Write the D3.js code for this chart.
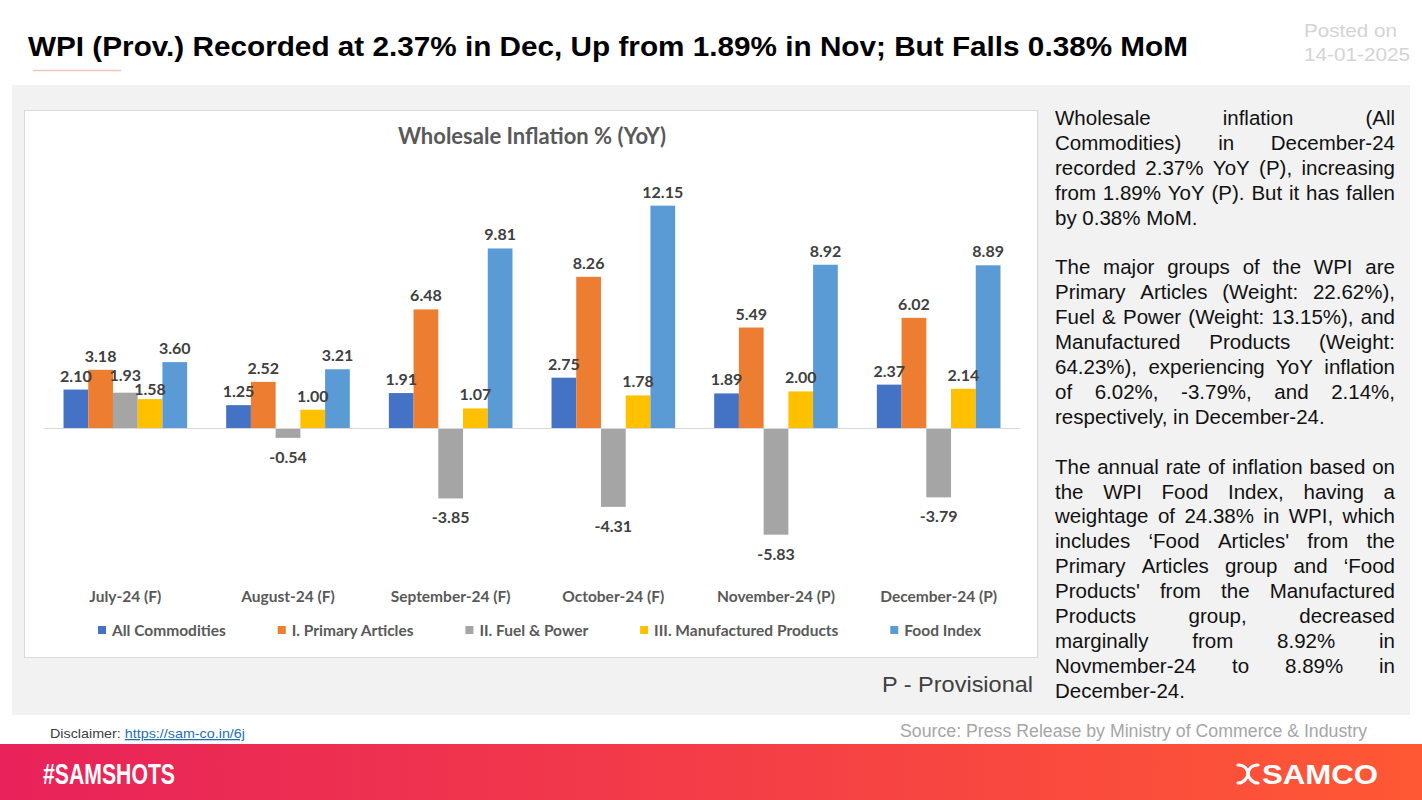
<!DOCTYPE html>
<html>
<head>
<meta charset="utf-8">
<script src="https://cdn.jsdelivr.net/npm/d3@7"></script>
<style>
  html, body { margin: 0; padding: 0; background: #ffffff; }
  svg { display: block; }
</style>
</head>
<body>
<svg id="chart" width="1422" height="800"></svg>
<script>
// ---------- DATA ----------
const categories = ["July-24 (F)", "August-24 (F)", "September-24 (F)", "October-24 (F)", "November-24 (P)", "December-24 (P)"];
const seriesNames = ["All Commodities", "I. Primary Articles", "II. Fuel & Power", "III. Manufactured Products", "Food Index"];
const allCommodities = [2.10, 1.25, 1.91, 2.75, 1.89, 2.37];
const primaryArticles = [3.18, 2.52, 6.48, 8.26, 5.49, 6.02];
const fuelPower = [1.93, -0.54, -3.85, -4.31, -5.83, -3.79];
const manufactured = [1.58, 1.00, 1.07, 1.78, 2.00, 2.14];
const foodIndex = [3.60, 3.21, 9.81, 12.15, 8.92, 8.89];
const seriesColors = ["#4472C4", "#ED7D31", "#A5A5A5", "#FFC000", "#5B9BD5"];

const titleText = "WPI (Prov.) Recorded at 2.37% in Dec, Up from 1.89% in Nov; But Falls 0.38% MoM";
const chartTitle = "Wholesale Inflation % (YoY)";
const sideParagraphs = [
  ["Wholesale inflation (All", "Commodities) in December-24", "recorded 2.37% YoY (P), increasing", "from 1.89% YoY (P). But it has fallen", "by 0.38% MoM."],
  ["The major groups of the WPI are", "Primary Articles (Weight: 22.62%),", "Fuel & Power (Weight: 13.15%), and", "Manufactured Products (Weight:", "64.23%), experiencing YoY inflation", "of 6.02%, -3.79%, and 2.14%,", "respectively, in December-24."],
  ["The annual rate of inflation based on", "the WPI Food Index, having a", "weightage of 24.38% in WPI, which", "includes \u2018Food Articles' from the", "Primary Articles group and \u2018Food", "Products' from the Manufactured", "Products group, decreased", "marginally from 8.92% in", "Novmember-24 to 8.89% in", "December-24."]
];

const seriesValues = [allCommodities, primaryArticles, fuelPower, manufactured, foodIndex];

// ---------- DRAW ----------
const svg = d3.select("#chart");
const chartFont = "Lato, 'Open Sans', sans-serif";
const arial = "'Liberation Sans', Arial, sans-serif";

// gradient for footer
const defs = svg.append("defs");
const grad = defs.append("linearGradient").attr("id", "footGrad").attr("x1", "0%").attr("x2", "100%");
grad.append("stop").attr("offset", "0%").attr("stop-color", "#e8225a");
grad.append("stop").attr("offset", "100%").attr("stop-color", "#ff5834");

// Header
svg.append("text").attr("x", 28).attr("y", 56)
  .attr("font-family", arial).attr("font-weight", "bold").attr("font-size", 28)
  .attr("fill", "#000").attr("textLength", 1160).attr("lengthAdjust", "spacingAndGlyphs")
  .text(titleText);
svg.append("text").attr("x", 1304).attr("y", 37)
  .attr("font-family", arial).attr("font-size", 19).attr("fill", "#d4d4d4")
  .attr("textLength", 93).attr("lengthAdjust", "spacingAndGlyphs").text("Posted on");
svg.append("text").attr("x", 1304).attr("y", 61)
  .attr("font-family", arial).attr("font-size", 19).attr("fill", "#d4d4d4")
  .attr("textLength", 106).attr("lengthAdjust", "spacingAndGlyphs").text("14-01-2025");
svg.append("line").attr("x1", 33).attr("x2", 121).attr("y1", 70.5).attr("y2", 70.5)
  .attr("stroke", "#f2c6b6").attr("stroke-width", 1.5);

// Gray panel
svg.append("rect").attr("x", 12).attr("y", 85).attr("width", 1398).attr("height", 630).attr("fill", "#f2f2f2");

// Chart box
svg.append("rect").attr("x", 24.5).attr("y", 110.5).attr("width", 1013).attr("height", 547)
  .attr("fill", "#ffffff").attr("stroke", "#d9d9d9").attr("stroke-width", 1);

svg.append("text").attr("x", 532).attr("y", 144).attr("text-anchor", "middle")
  .attr("font-family", chartFont).attr("font-weight", "bold").attr("font-size", 22)
  .attr("fill", "#595959").text(chartTitle);

// Scales
const x0 = d3.scaleBand().domain(categories).range([44, 1020]).paddingInner(0.24).paddingOuter(0.12);
const x1 = d3.scaleBand().domain(seriesNames).range([0, x0.bandwidth()]);
const y = d3.scaleLinear().domain([-6, 12]).range([428 + 6 * 18.3, 428 - 12 * 18.3]);

const data = [];
categories.forEach((c, i) => {
  seriesNames.forEach((s, j) => {
    data.push({ cat: c, series: s, value: seriesValues[j][i], color: seriesColors[j] });
  });
});

const g = svg.append("g");
g.selectAll("rect.bar").data(data).enter().append("rect")
  .attr("class", "bar")
  .attr("x", d => x0(d.cat) + x1(d.series))
  .attr("width", x1.bandwidth())
  .attr("y", d => y(Math.max(0, d.value)))
  .attr("height", d => Math.abs(y(d.value) - y(0)))
  .attr("fill", d => d.color);

// zero line
g.append("line").attr("x1", 44).attr("x2", 1020).attr("y1", y(0) + 0.5).attr("y2", y(0) + 0.5)
  .attr("stroke", "#d9d9d9").attr("stroke-width", 1.2);

// value label positions with simple collision avoidance between neighbours
data.forEach(d => {
  d.lx = x0(d.cat) + x1(d.series) + x1.bandwidth() / 2;
  d.ly = d.value >= 0 ? y(d.value) - 8 : y(d.value) + 25;
});
const minSep = 14.5;
for (let k = 1; k < data.length; k++) {
  const a = data[k - 1], b = data[k];
  if (a.cat !== b.cat) continue;
  if (Math.abs(a.lx - b.lx) < 36 && Math.abs(a.ly - b.ly) < minSep) {
    const need = (minSep - Math.abs(a.ly - b.ly)) / 2;
    if (a.ly <= b.ly) { a.ly -= need; b.ly += need; } else { a.ly += need; b.ly -= need; }
  }
}

g.selectAll("text.val").data(data).enter().append("text")
  .attr("class", "val")
  .attr("x", d => d.lx)
  .attr("y", d => d.ly)
  .attr("text-anchor", "middle")
  .attr("font-family", chartFont).attr("font-weight", "bold").attr("font-size", 16)
  .attr("fill", "#404040")
  .text(d => d.value.toFixed(2));

// category axis labels
g.selectAll("text.cat").data(categories).enter().append("text")
  .attr("class", "cat")
  .attr("x", d => x0(d) + x0.bandwidth() / 2)
  .attr("y", 602)
  .attr("text-anchor", "middle")
  .attr("font-family", chartFont).attr("font-weight", "bold").attr("font-size", 15.5)
  .attr("fill", "#595959").text(d => d);

// legend
const leg = g.append("g");
const items = leg.selectAll("g.li").data(seriesNames).enter().append("g").attr("class", "li");
items.append("rect").attr("width", 8).attr("height", 8).attr("y", -10).attr("fill", (d, i) => seriesColors[i]);
items.append("text").attr("x", 14).attr("y", 0)
  .attr("font-family", chartFont).attr("font-weight", "bold").attr("font-size", 15.5)
  .attr("fill", "#595959").text(d => d);
const widths = [];
items.each(function () { widths.push(14 + d3.select(this).select("text").node().getComputedTextLength()); });
const legStart = 98, legEnd = 981;
const gap = (legEnd - legStart - d3.sum(widths)) / (widths.length - 1);
let cx = legStart;
items.each(function (d, i) {
  d3.select(this).attr("transform", `translate(${cx},636)`);
  cx += widths[i] + gap;
});

// P - Provisional
svg.append("text").attr("x", 1033).attr("y", 692).attr("text-anchor", "end")
  .attr("font-family", arial).attr("font-size", 22).attr("fill", "#404040")
  .attr("textLength", 151).attr("lengthAdjust", "spacingAndGlyphs").text("P - Provisional");

// Side text, justified
const side = svg.append("g").attr("font-family", arial).attr("font-size", 20.5).attr("fill", "#111");
const sideLeft = 1055, sideRight = 1395, lineH = 24.9;
let lineIdx = 0;
const measurer = svg.append("text").attr("font-family", arial).attr("font-size", 20.5).attr("visibility", "hidden");
function measure(s) { measurer.text(s); return measurer.node().getComputedTextLength(); }
sideParagraphs.forEach((para, pi) => {
  para.forEach((line, li) => {
    const yy = 125 + lineIdx * lineH;
    const words = line.split(" ");
    const isLast = li === para.length - 1;
    const t = side.append("text").attr("y", yy);
    if (isLast || words.length === 1) {
      t.attr("x", sideLeft).text(line);
    } else {
      const ws = words.map(measure);
      const gp = (sideRight - sideLeft - d3.sum(ws)) / (words.length - 1);
      let px = sideLeft;
      words.forEach((w, k) => {
        t.append("tspan").attr("x", px).text(w);
        px += ws[k] + gp;
      });
    }
    lineIdx++;
  });
  lineIdx++;
});
measurer.remove();

// Footer texts
const disc = svg.append("text").attr("x", 50).attr("y", 738)
  .attr("font-family", arial).attr("font-size", 13).attr("fill", "#404040")
  .attr("textLength", 195).attr("lengthAdjust", "spacingAndGlyphs");
disc.append("tspan").text("Disclaimer: ");
disc.append("tspan").attr("fill", "#1f6fb2").attr("text-decoration", "underline").text("https://sam-co.in/6j");

svg.append("text").attr("x", 1367).attr("y", 737).attr("text-anchor", "end")
  .attr("font-family", arial).attr("font-size", 17.5).attr("fill", "#a6a6a6")
  .attr("textLength", 467).attr("lengthAdjust", "spacingAndGlyphs")
  .text("Source: Press Release by Ministry of Commerce & Industry");

// footer band
svg.append("rect").attr("x", 0).attr("y", 744).attr("width", 1422).attr("height", 56).attr("fill", "url(#footGrad)");
svg.append("text").attr("x", 43).attr("y", 784)
  .attr("font-family", arial).attr("font-weight", "bold").attr("font-size", 29).attr("fill", "#fff")
  .attr("textLength", 132).attr("lengthAdjust", "spacingAndGlyphs").text("#SAMSHOTS");
svg.append("text").attr("x", 1378).attr("y", 784).attr("text-anchor", "end")
  .attr("font-family", arial).attr("font-weight", "bold").attr("font-size", 27).attr("fill", "#fff")
  .attr("textLength", 116).attr("lengthAdjust", "spacingAndGlyphs").text("SAMCO");
// logo mark
const logo = svg.append("g").attr("transform", "translate(1236,763)").attr("fill", "none")
  .attr("stroke", "#fff").attr("stroke-width", 3.2).attr("stroke-linecap", "round");
logo.append("path").attr("d", "M2,2 C10,2 12,8 12,11 C12,14 8,20 2,20");
logo.append("path").attr("d", "M22,2 C14,2 12,8 12,11 C12,14 16,20 22,20");
</script>
</body>
</html>
